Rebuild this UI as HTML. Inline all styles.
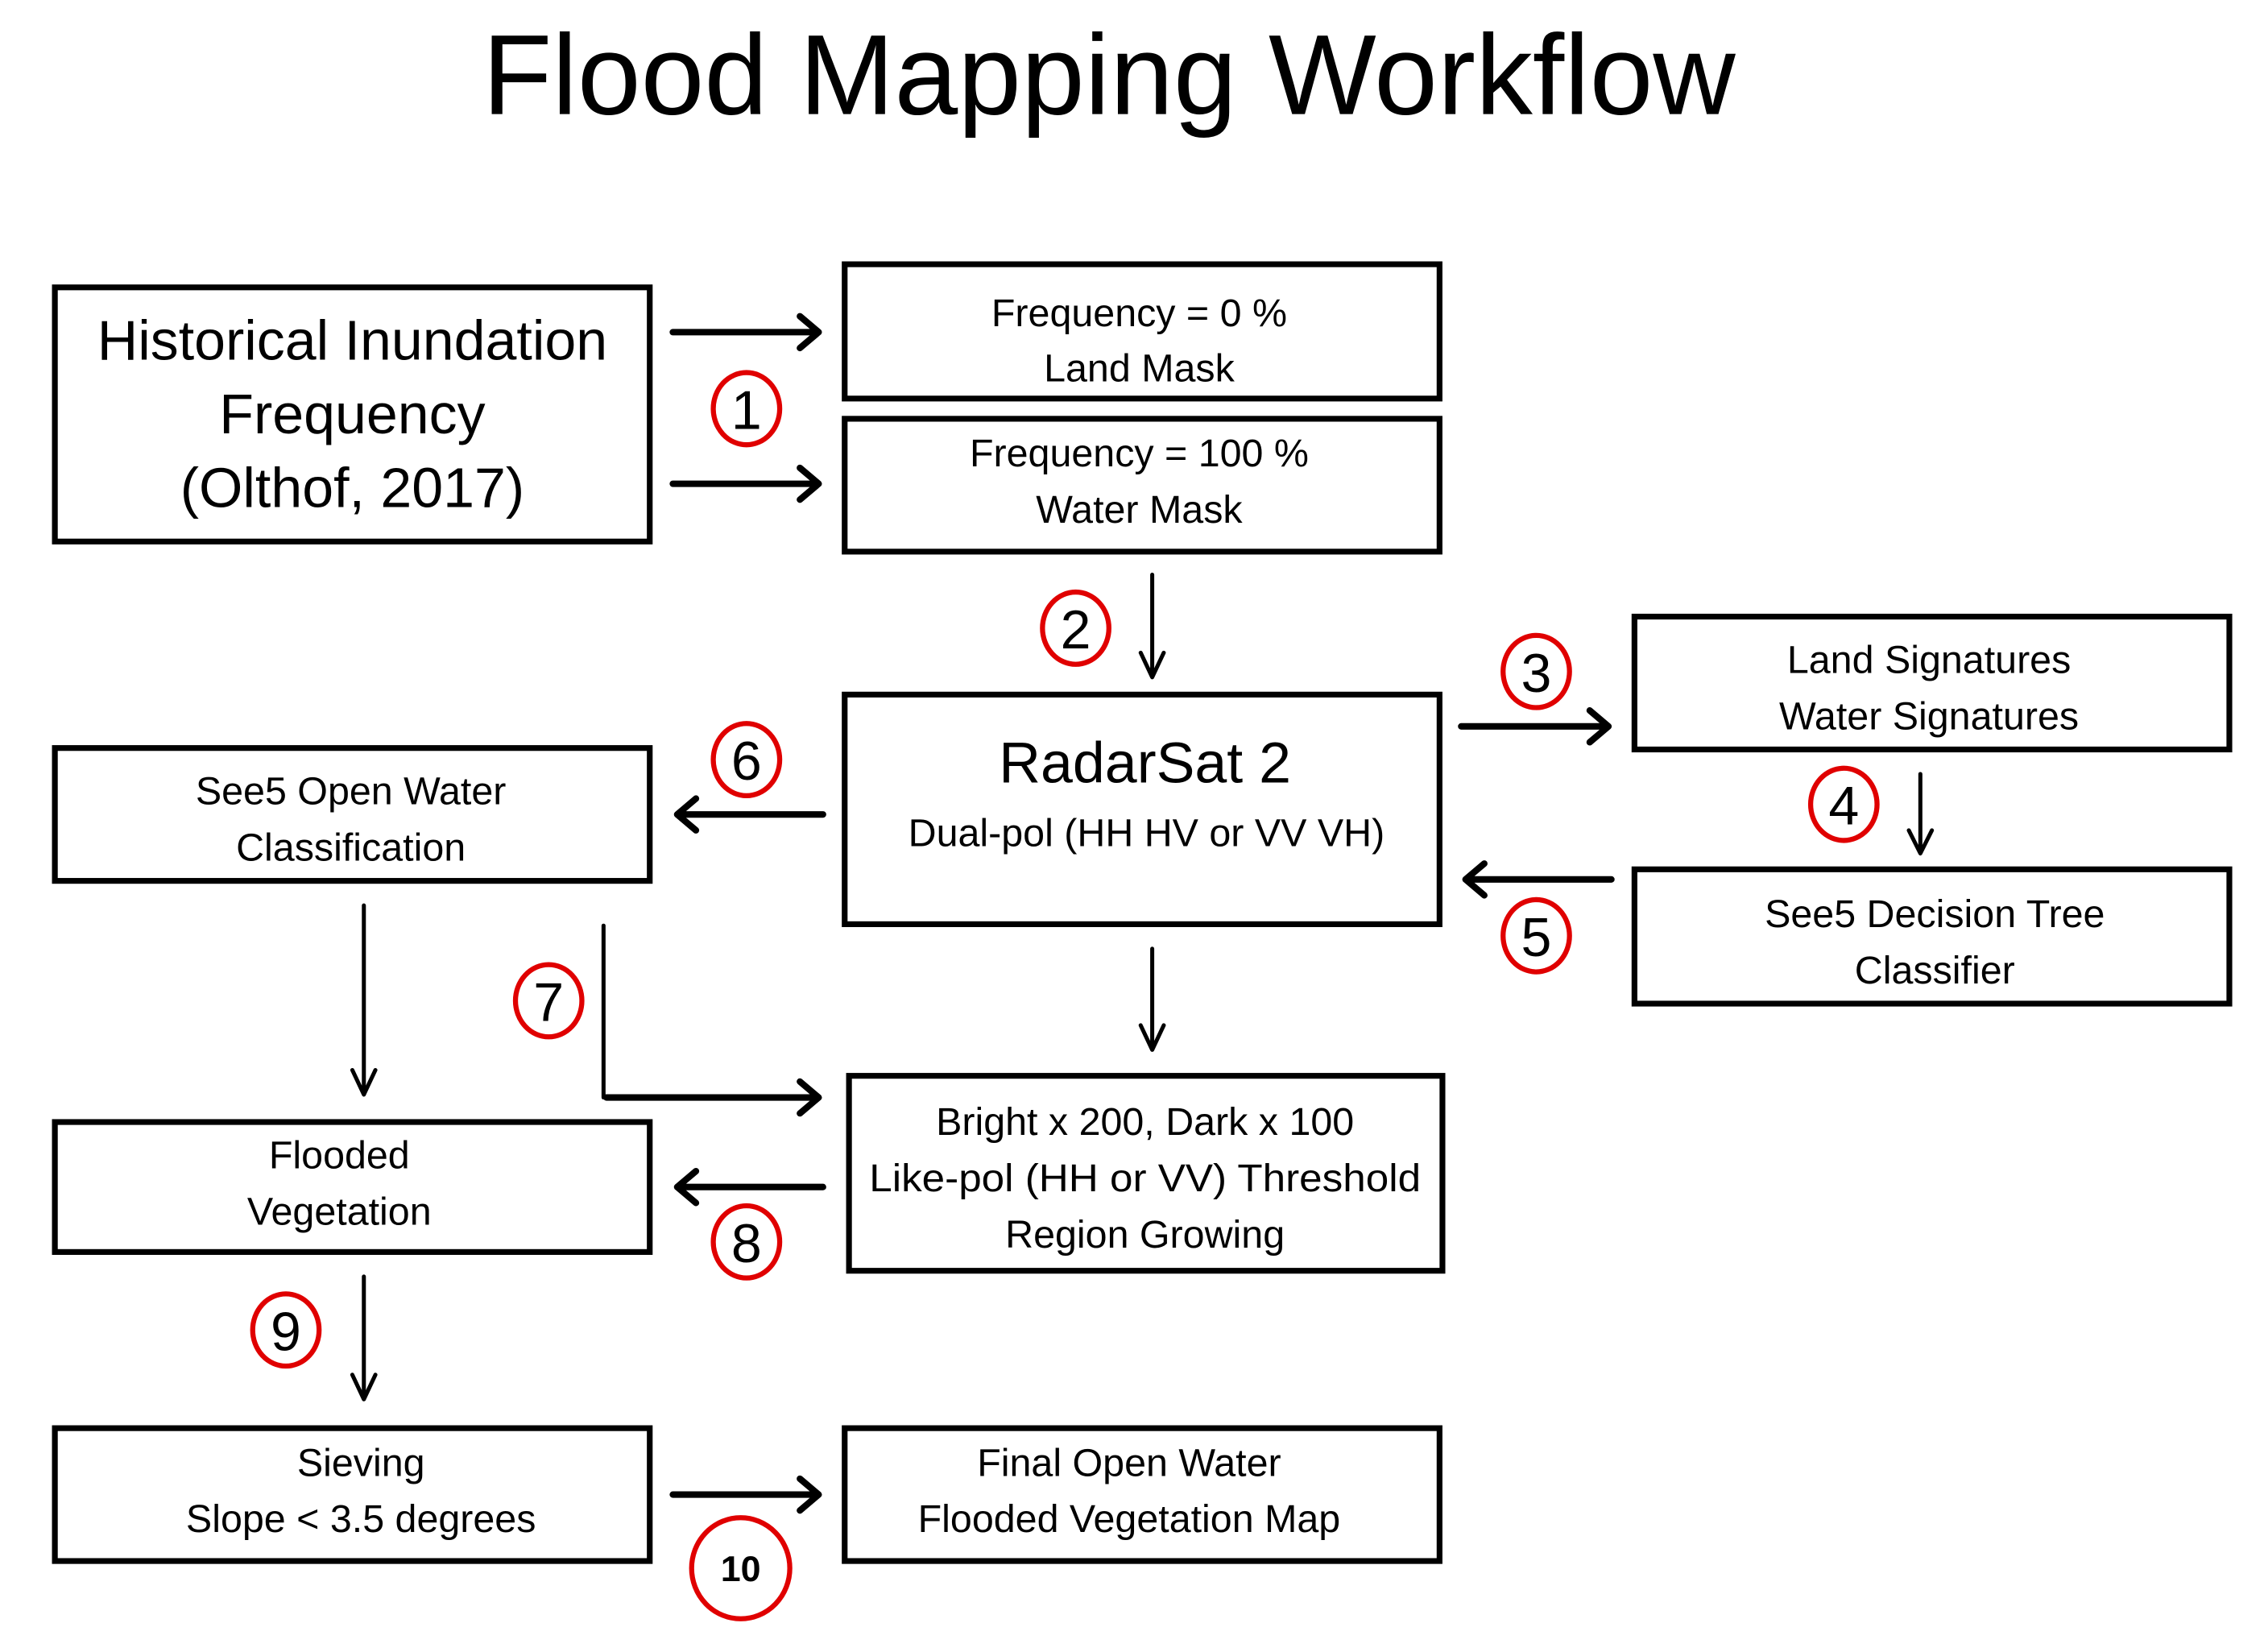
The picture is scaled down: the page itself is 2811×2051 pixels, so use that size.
<!DOCTYPE html>
<html><head><meta charset="utf-8"><style>
html,body{margin:0;padding:0;background:#fff;}
svg{display:block;}
text{font-family:"Liberation Sans",sans-serif;fill:#000;}
</style></head><body>
<svg width="2811" height="2051" viewBox="0 0 1568 1144" preserveAspectRatio="none" xmlns="http://www.w3.org/2000/svg">
<text x="768" y="79" font-size="79" text-anchor="middle">Flood Mapping Workflow</text>

<g fill="none" stroke="#000" stroke-width="4">
<rect x="38" y="199" width="412" height="176"/>
<rect x="585" y="183" width="412" height="93"/>
<rect x="585" y="290" width="412" height="92"/>
<rect x="585" y="481" width="412" height="159"/>
<rect x="1132" y="427" width="412" height="92"/>
<rect x="1132" y="602" width="412" height="93"/>
<rect x="38" y="518" width="412" height="92"/>
<rect x="588" y="745" width="411" height="135"/>
<rect x="38" y="777" width="412" height="90"/>
<rect x="38" y="989" width="412" height="92"/>
<rect x="585" y="989" width="412" height="92"/>
</g>

<g fill="none" stroke="#000" stroke-width="4.5" stroke-linecap="round" stroke-linejoin="round">
<path d="M466 230 H566 M554 219 L567 230 L554 241"/>
<path d="M466 335 H566 M554 324 L567 335 L554 346"/>
<path d="M1012 503 H1113 M1101 492 L1114 503 L1101 514"/>
<path d="M1116 609 H1016 M1028 598 L1015 609 L1028 620"/>
<path d="M570 564 H470 M482 553 L469 564 L482 575"/>
<path d="M570 822 H470 M482 811 L469 822 L482 833"/>
<path d="M420 760 H566 M554 749 L567 760 L554 771"/>
<path d="M466 1035 H566 M554 1024 L567 1035 L554 1046"/>
</g>
<g fill="none" stroke="#000" stroke-width="2.8" stroke-linecap="round" stroke-linejoin="round">
<path d="M798 398 V468 M790 452 L798 469 L806 452"/>
<path d="M1330 536 V590 M1322 575 L1330 591 L1338 575"/>
<path d="M252 627 V757 M244 741 L252 758 L260 741"/>
<path d="M798 657 V726 M790 710 L798 727 L806 710"/>
<path d="M252 884 V968 M244 952 L252 969 L260 952"/>
<path d="M418 641 V760"/>
</g>

<g fill="none" stroke="#e00000" stroke-width="3.5">
<ellipse cx="517" cy="283" rx="23" ry="25"/>
<ellipse cx="745" cy="435" rx="23" ry="25"/>
<ellipse cx="1064" cy="465" rx="23" ry="25"/>
<ellipse cx="1277" cy="557" rx="23" ry="25"/>
<ellipse cx="1064" cy="648" rx="23" ry="25"/>
<ellipse cx="517" cy="526" rx="23" ry="25"/>
<ellipse cx="380" cy="693" rx="23" ry="25"/>
<ellipse cx="517" cy="860" rx="23" ry="25"/>
<ellipse cx="198" cy="921" rx="23" ry="25"/>
<ellipse cx="513" cy="1086" rx="34" ry="35"/>
</g>
<g font-size="38" text-anchor="middle">
<text x="517" y="297">1</text>
<text x="745" y="449">2</text>
<text x="1064" y="479">3</text>
<text x="1277" y="571">4</text>
<text x="1064" y="662">5</text>
<text x="517" y="540">6</text>
<text x="380" y="707">7</text>
<text x="517" y="874">8</text>
<text x="198" y="935">9</text>
<text x="513" y="1095" font-size="25" font-weight="bold">10</text>
</g>

<g font-size="39" text-anchor="middle">
<text x="244" y="249">Historical Inundation</text>
<text x="244" y="300">Frequency</text>
<text x="244" y="351">(Olthof, 2017)</text>
<text x="793" y="542" font-size="40">RadarSat 2</text>
</g>
<g font-size="27" text-anchor="middle">
<text x="789" y="226">Frequency = 0 %</text>
<text x="789" y="264">Land Mask</text>
<text x="789" y="323">Frequency = 100 %</text>
<text x="789" y="362">Water Mask</text>
<text x="794" y="586">Dual-pol (HH HV or VV VH)</text>
<text x="1336" y="466">Land Signatures</text>
<text x="1336" y="505">Water Signatures</text>
<text x="1340" y="642">See5 Decision Tree</text>
<text x="1340" y="681">Classifier</text>
<text x="243" y="557">See5 Open Water</text>
<text x="243" y="596">Classification</text>
<text x="793" y="786">Bright x 200, Dark x 100</text>
<text x="793" y="825" textLength="382" lengthAdjust="spacingAndGlyphs">Like-pol (HH or VV) Threshold</text>
<text x="793" y="864">Region Growing</text>
<text x="235" y="809">Flooded</text>
<text x="235" y="848">Vegetation</text>
<text x="250" y="1022">Sieving</text>
<text x="250" y="1061">Slope &lt; 3.5 degrees</text>
<text x="782" y="1022">Final Open Water</text>
<text x="782" y="1061">Flooded Vegetation Map</text>
</g>
</svg>
</body></html>
